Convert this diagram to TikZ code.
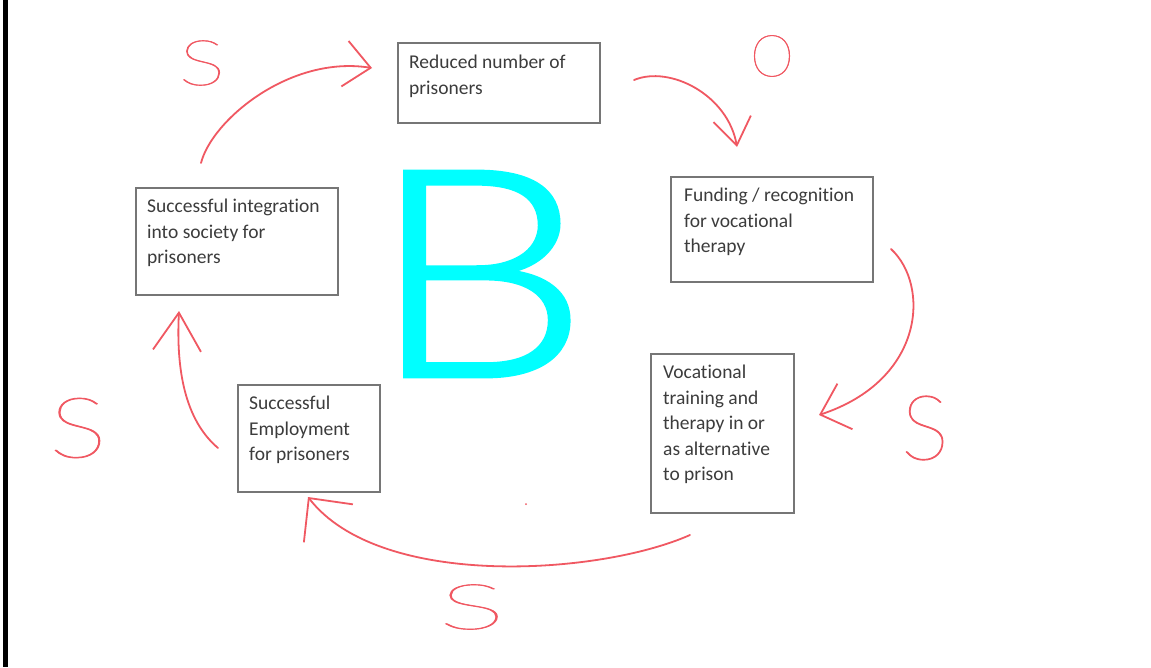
\documentclass[tikz,border=0pt]{standalone}
\usepackage{fontspec}
\setmainfont{Carlito}[Ligatures=NoCommon]
\newfontfamily\handfont{Lato Hairline}[FakeBold=0.8]
\newfontfamily\bigfont{Lato Light}[FakeBold=1.5]
\usetikzlibrary{arrows.meta}
\definecolor{pen}{RGB}{240,88,98}
\definecolor{cyanB}{RGB}{0,255,255}
\definecolor{boxgray}{RGB}{118,118,118}
\definecolor{txtgray}{RGB}{60,60,60}
\tikzset{
  boxnode/.style={draw=boxgray, line width=1.6pt, fill=white, rectangle, inner sep=0pt, anchor=north west},
  boxtext/.style={anchor=north west, inner sep=0pt, align=left, text=txtgray, font=\fontsize{19.5}{25.5}\selectfont},
  penline/.style={draw=pen, line width=1.8pt, line cap=round, line join=round},
  handlabel/.style={text=pen, inner sep=0pt, anchor=center},
}
\begin{document}
\begin{tikzpicture}[x=1pt,y=-1pt]
\useasboundingbox (0,0) rectangle (1151,667);
\fill[white] (0,0) rectangle (1151,667);
\fill[black] (3,0) rectangle (7.5,667);

% boxes
\node[boxnode, minimum width=202pt, minimum height=80pt] (b1) at (397,42) {};
\node[boxnode, minimum width=202pt, minimum height=105pt] (b2) at (670,176) {};
\node[boxnode, minimum width=143pt, minimum height=159pt] (b3) at (650,353) {};
\node[boxnode, minimum width=142pt, minimum height=107pt] (b4) at (237,384) {};
\node[boxnode, minimum width=202pt, minimum height=107pt] (b5) at (135,187) {};

\node[boxtext] (t1) at ([shift={(12,13)}]b1.north west) {Reduced number of\\prisoners};
\node[boxtext] (t2) at ([shift={(14,12)}]b2.north west) {Funding / recognition\\for vocational\\therapy};
\node[boxtext] (t3) at ([shift={(13,12)}]b3.north west) {Vocational\\training and\\therapy in or\\as alternative\\to prison};
\node[boxtext] (t4) at ([shift={(12,12)}]b4.north west) {Successful\\Employment\\for prisoners};
\node[boxtext] (t5) at ([shift={(12,12)}]b5.north west) {Successful integration\\into society for\\prisoners};

% big B
\node[text=cyanB, inner sep=0pt, xscale=1.2, font=\bigfont\fontsize{289}{289}\selectfont] (bigB) at (479,274) {B};

% connector end points
\coordinate (a1s) at (201,163);
\coordinate (a1e) at (372,68);
\coordinate (a2s) at (634,80);
\coordinate (a2e) at (737,147);
\coordinate (a3s) at (891,249);
\coordinate (a3e) at (819,415);
\coordinate (a4s) at (690,535);
\coordinate (a4e) at (308,497);
\coordinate (a5s) at (218,448);
\coordinate (a5e) at (179,311);

\draw[penline, -{Straight Barb[length=26pt,width=46pt,line width=1.8pt]}]
  (a1s) .. controls (212,120) and (290,55) .. (a1e);
\draw[penline, -{Straight Barb[length=27pt,width=38pt,line width=1.8pt]}]
  (a2s) .. controls (670,65) and (728,95) .. (a2e);
\draw[penline, -{Straight Barb[length=26pt,width=48pt,line width=1.8pt]}]
  (a3s) .. controls (930,285) and (925,380) .. (a3e);
\draw[penline, -{Straight Barb[length=32pt,width=62pt,line width=1.8pt]}]
  (a4s) .. controls (600,575) and (380,590) .. (a4e);
\draw[penline, -{Straight Barb[length=38pt,width=48pt,line width=1.8pt]}]
  (a5s) .. controls (185,420) and (176,370) .. (a5e);

\fill[pen] (526,504) circle (1pt);

% polarity labels
\node[handlabel, font=\handfont\fontsize{63}{63}\selectfont, xscale=1.4] (s1) at (202,63) {S};
\node[handlabel, font=\handfont\fontsize{58}{58}\selectfont, xscale=0.95] (o1) at (772,56) {O};
\node[handlabel, font=\handfont\fontsize{84}{84}\selectfont, xscale=1.3] (s2) at (78,428) {S};
\node[handlabel, font=\handfont\fontsize{90}{90}\selectfont] (s3) at (925,428) {S};
\node[handlabel, font=\handfont\fontsize{63}{63}\selectfont, xscale=2.0] (s4) at (472,607) {S};
\end{tikzpicture}
\end{document}
